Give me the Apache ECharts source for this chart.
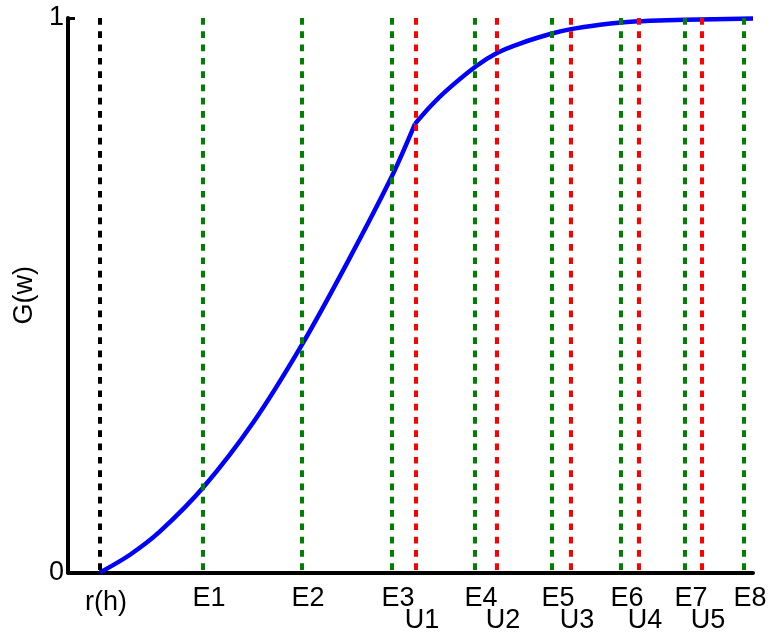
<!DOCTYPE html>
<html lang="en">
<head>
    <meta charset="UTF-8">
    <script type="text/javascript" src="https://cdn.jsdelivr.net/npm/echarts@6/dist/echarts.min.js"></script>
    <title>G(w)</title>
    <style>
        html, body { margin: 0; padding: 0; background: #fff; }
        #main { width: 773px; height: 637px; }
    </style>
</head>
<body>
<div id="main"></div>
<script type="text/javascript">

    // positions of the vertical markers along w
    var rhName = 'r(h)';
    var rhX = 32;
    var eNames = ['E1', 'E2', 'E3', 'E4', 'E5', 'E6', 'E7', 'E8'];
    var eX = [135, 234, 324, 407, 484, 553, 617, 676];
    var uNames = ['U1', 'U2', 'U3', 'U4', 'U5'];
    var uX = [348, 429, 503, 571, 634];

    // the G(w) curve, in two pieces (there is a kink at U1)
    var curveW1 = [32, 62, 92, 136, 185, 234, 279, 324, 347];
    var curveG1 = [0, 0.032, 0.074, 0.155, 0.270, 0.411, 0.558, 0.715, 0.809];
    var curveW2 = [347, 362, 379, 408, 429, 452, 484, 503, 532, 553, 582, 617, 685];
    var curveG2 = [0.809, 0.840, 0.870, 0.913, 0.937, 0.954, 0.972, 0.980, 0.988, 0.992, 0.995, 0.997, 0.999];

    var yTicks = [0, 1];
    var fontFam = '"Liberation Sans", Arial, sans-serif';

    var myChart = echarts.init(document.getElementById('main'));

    var series = [];

    //竖直虚线
    function vLine(x, color) {
        series.push({
            type: 'line',
            data: [[x, 1], [x, 0]],
            symbol: 'none',
            silent: true,
            z: 3,
            lineStyle: { color: color, width: 4, type: [6.7, 6.6], cap: 'butt' }
        });
    }
    vLine(rhX, '#000000');
    eX.forEach(function (x) { vLine(x, '#008000'); });
    uX.forEach(function (x) { vLine(x, '#ff0000'); });

    // curve
    function curve(ws, gs) {
        series.push({
            type: 'line',
            data: ws.map(function (w, i) { return [w, gs[i]]; }),
            symbol: 'none',
            smooth: 0.3,
            z: 2,
            lineStyle: { color: '#0000ff', width: 4.5 }
        });
    }
    curve(curveW1, curveG1);
    curve(curveW2, curveG2);

    // labels under the axis
    function labels(names, xs, dist) {
        series.push({
            type: 'scatter',
            symbolSize: 0,
            itemStyle: { color: '#000', opacity: 1 },
            silent: true,
            data: xs.map(function (x, i) { return [x, 0, names[i]]; }),
            label: {
                show: true,
                position: 'bottom',
                distance: dist,
                offset: [6, 0],
                color: '#000',
                opacity: 1,
                fontSize: 27,
                fontFamily: fontFam,
                formatter: function (p) { return p.value[2]; }
            }
        });
    }
    labels([rhName], [rhX], 17);
    labels(eNames, eX, 13);
    labels(uNames, uX, 35);

    var option = {
        backgroundColor: '#fff',
        animation: false,
        grid: { left: 68, right: 20, top: 18, bottom: 64.5 },
        xAxis: {
            type: 'value',
            min: 0,
            max: 685,
            axisLine: { show: true, onZero: false, lineStyle: { color: '#000', width: 4 } },
            axisTick: { show: false },
            axisLabel: { show: false },
            splitLine: { show: false }
        },
        yAxis: {
            type: 'value',
            min: yTicks[0],
            max: yTicks[1],
            interval: 1,
            name: 'G(w)',
            nameLocation: 'middle',
            nameGap: 20,
            nameTextStyle: { color: '#000', fontSize: 27, fontFamily: fontFam },
            axisLine: { show: true, lineStyle: { color: '#000', width: 4 } },
            axisTick: { show: true, inside: true, length: 7, lineStyle: { color: '#000', width: 3 } },
            axisLabel: { color: '#000', fontSize: 27, fontFamily: fontFam, margin: 4 },
            splitLine: { show: false }
        },
        series: series
    };
    myChart.setOption(option);
</script>
</body>
</html>
